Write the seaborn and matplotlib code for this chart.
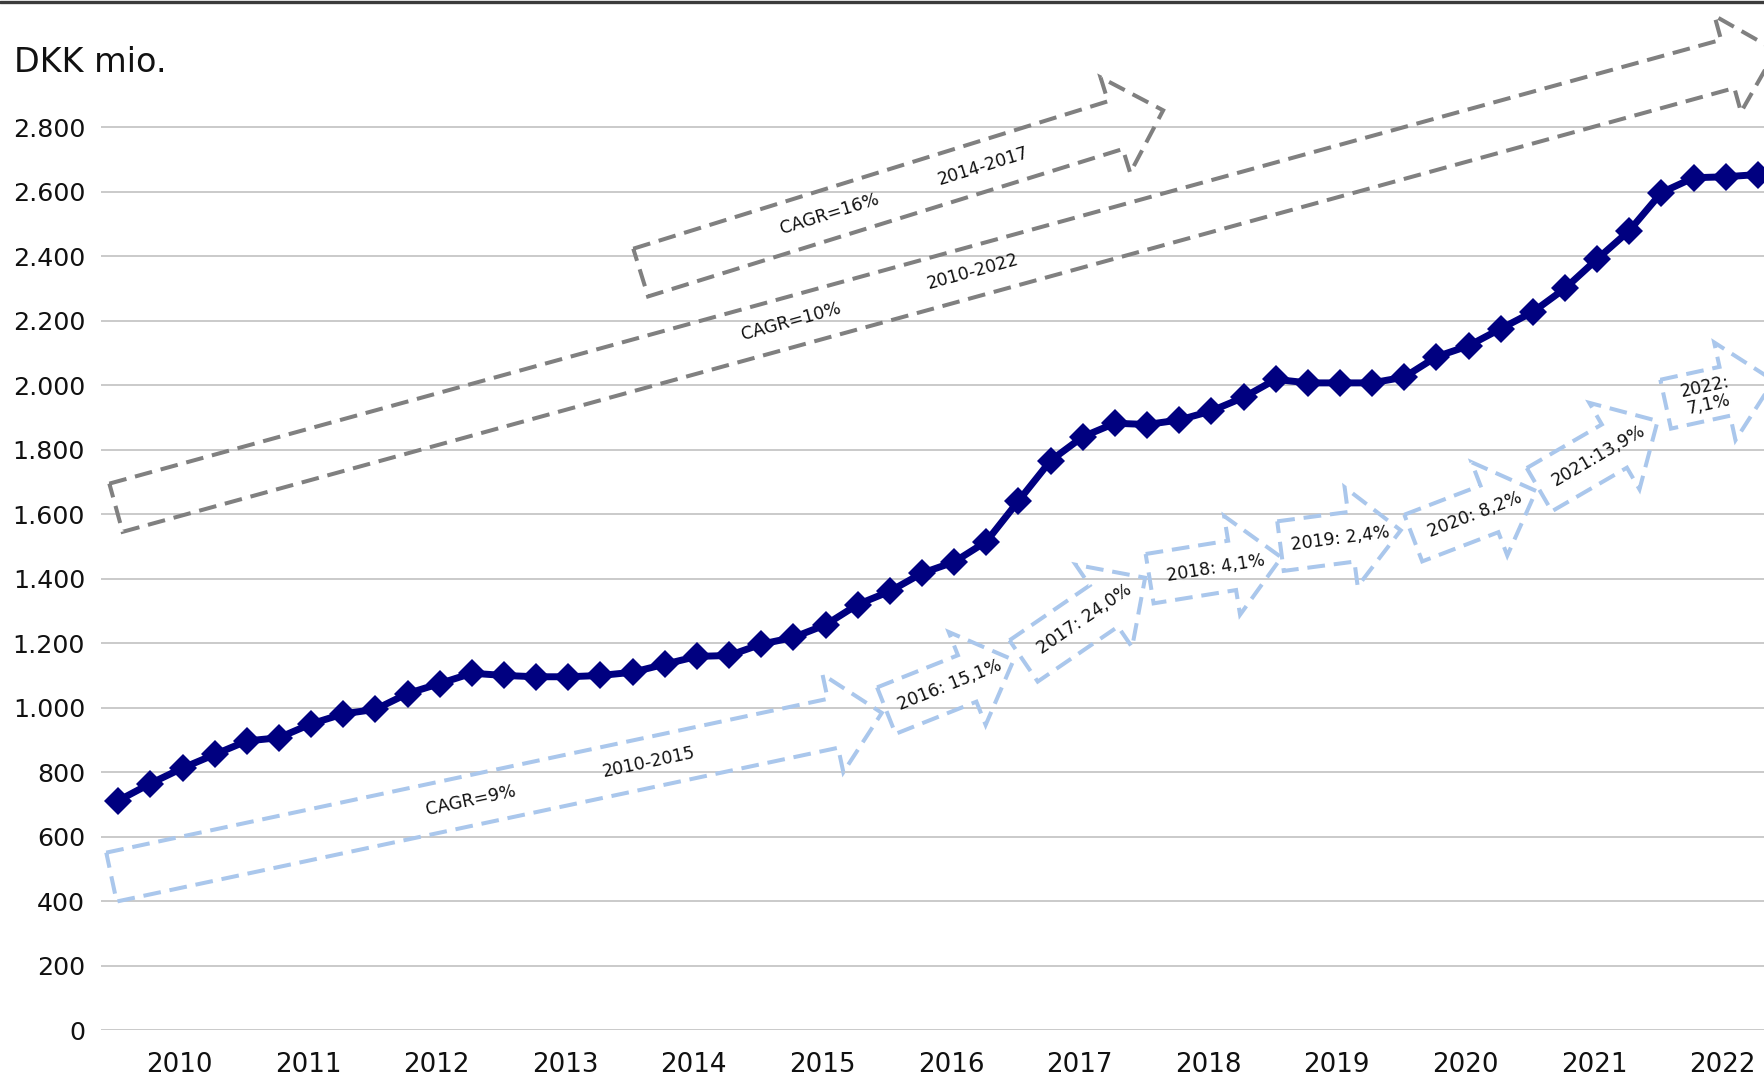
import numpy as np
import pandas as pd
import matplotlib
matplotlib.use("Agg")
import matplotlib.pyplot as plt
import seaborn as sns
from matplotlib.patches import Polygon
from matplotlib.lines import Line2D

# ---------------- data ----------------
years = [str(y) for y in range(2010, 2023)]
quarter_index = list(range(52))
revenue = [712, 765, 813, 855, 897, 907, 950, 981, 995, 1044, 1075, 1107,
           1100, 1096, 1096, 1100, 1110, 1135, 1159, 1162, 1197, 1218, 1257, 1320,
           1361, 1417, 1452, 1515, 1641, 1766, 1840, 1882, 1878, 1892, 1920, 1962,
           2018, 2007, 2007, 2007, 2025, 2088, 2122, 2175, 2227, 2300, 2391, 2479,
           2597, 2643, 2646, 2653]
y_ticks = [0, 200, 400, 600, 800, 1000, 1200, 1400, 1600, 1800, 2000, 2200, 2400, 2600, 2800]
y_tick_labels = ["0", "200", "400", "600", "800", "1.000", "1.200", "1.400", "1.600",
                 "1.800", "2.000", "2.200", "2.400", "2.600", "2.800"]

# annotation arrows: (start idx, start value, tip idx, tip value)
gray_arrows = [(-0.07, 1620, 51.56, 3037), (16.25, 2349, 32.50, 2852)]
gray_texts = [("CAGR=10%", 0, 0.407), ("2010-2022", 0, 0.516),
              ("CAGR=16%", 1, 0.362), ("2014-2017", 1, 0.655)]
blue_big_arrow = (-0.21, 475, 23.75, 984)
blue_big_texts = [("CAGR=9%", 0.466), ("2010-2015", 0.697)]
yearly_arrows = [(23.89, 991, 27.85, 1148), (28.16, 1145, 31.94, 1403),
                 (32.08, 1400, 36.18, 1466), (36.15, 1501, 39.89, 1550),
                 (40.28, 1526, 44.10, 1672), (44.20, 1676, 47.88, 1889),
                 (48.13, 1941, 51.49, 2014)]
yearly_labels = ["2016: 15,1%", "2017: 24,0%", "2018: 4,1%", "2019: 2,4%",
                 "2020: 8,2%", "2021:13,9%", "2022:\n7,1%"]
yearly_text_frac = [0.5, 0.5, 0.5, 0.5, 0.5, 0.5, 0.38]

df = pd.DataFrame({"q": quarter_index, "value": revenue})

# ---------------- figure ----------------
sns.set_style("white")
plt.rcParams['font.family'] = ['DejaVu Sans']

W, H, DPI = 1765, 1077, 100
fig = plt.figure(figsize=(W / DPI, H / DPI), dpi=DPI)
ax = fig.add_axes([101 / W, 1 - 1030.3 / H, 1 - 101 / W, 1030.3 / H])
ax.set_xlim(-0.536, 51.22)
ax.set_ylim(0, 3194)

for t in y_ticks:
    ax.axhline(t, color="#c6c6c6", lw=1.3, zorder=0)

sns.lineplot(data=df, x="q", y="value", ax=ax, color="#000080", linewidth=5,
             marker="D", markersize=14.5, markeredgecolor="#000080",
             markeredgewidth=0, zorder=5)

ax.set_yticks(y_ticks)
ax.set_yticklabels(y_tick_labels, fontsize=18.2, color="#111111")
ax.set_xticks([4 * i + 1.9 for i in range(len(years))])
ax.set_xticklabels(years, fontsize=18.8, color="#111111")
ax.tick_params(axis="y", length=0, pad=11.5)
ax.tick_params(axis="x", length=0, pad=15.5)
ax.set_xlabel("")
ax.set_ylabel("")
for s in ax.spines.values():
    s.set_visible(False)

fig.text(14 / W, 1 - 62 / H, "DKK mio.", fontsize=24, ha="left", va="center",
         color="#111111")
fig.add_artist(Line2D([0, 1], [1 - 1.5 / H, 1 - 1.5 / H], transform=fig.transFigure,
                      color="#3c3c3c", lw=2.4))

BODY_HW, HEAD_HW, HEAD_LEN = 25.0, 50.0, 50.0


def block_arrow(spec, color, lw):
    x0, y0, x1, y1 = spec
    S = ax.transData.transform((x0, y0))
    T = ax.transData.transform((x1, y1))
    d = T - S
    length = np.hypot(*d)
    u = d / length
    n = np.array([-u[1], u[0]])
    B = T - HEAD_LEN * u
    pts = [S + BODY_HW * n, B + BODY_HW * n, B + HEAD_HW * n, T,
           B - HEAD_HW * n, B - BODY_HW * n, S - BODY_HW * n]
    data_pts = ax.transData.inverted().transform(np.array(pts))
    poly = Polygon(data_pts, closed=True, fill=False, edgecolor=color, lw=lw,
                   linestyle=(0, (4.4, 2.2)), joinstyle="miter", clip_on=False, zorder=3)
    ax.add_patch(poly)
    angle = np.degrees(np.arctan2(d[1], d[0]))
    return S, T, angle


def text_along(S, T, angle, frac, label, size):
    P = S + (T - S) * frac
    pd_ = ax.transData.inverted().transform(P)
    ax.text(pd_[0], pd_[1], label, rotation=angle, rotation_mode="anchor",
            ha="center", va="center", fontsize=size, color="#111111", zorder=4,
            linespacing=1.0)


GRAY = "#808080"
BLUE = "#aac7ec"

gray_geo = [block_arrow(a, GRAY, 2.9) for a in gray_arrows]
for label, k, frac in gray_texts:
    S, T, ang = gray_geo[k]
    text_along(S, T, ang, frac, label, 12.5)

S, T, ang = block_arrow(blue_big_arrow, BLUE, 2.9)
for label, frac in blue_big_texts:
    text_along(S, T, ang, frac, label, 12.5)

for spec, label, frac in zip(yearly_arrows, yearly_labels, yearly_text_frac):
    S, T, ang = block_arrow(spec, BLUE, 2.9)
    text_along(S, T, ang, frac, label, 12.5)

fig.savefig("out.png", dpi=DPI)
